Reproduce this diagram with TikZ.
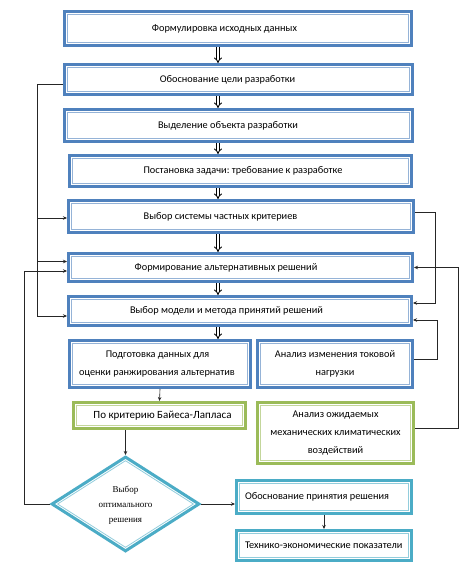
\documentclass[tikz,border=0pt]{standalone}
\usepackage{fontspec}
\setmainfont{Carlito}
\newfontfamily\dmfont{Liberation Serif}
\usetikzlibrary{shapes.geometric,arrows.meta,calc}
\definecolor{bOut}{RGB}{79,129,189}
\definecolor{bIn}{RGB}{149,179,215}
\definecolor{gOut}{RGB}{155,187,89}
\definecolor{gIn}{RGB}{195,214,155}
\definecolor{aOut}{RGB}{75,172,198}
\definecolor{aIn}{RGB}{146,205,220}
\newcommand{\lsh}[1]{\hspace*{#1}}
\frenchspacing
\tikzset{
  frame/.style 2 args={draw=#1, line width=3pt, fill=white, inner sep=2pt, align=center,
    font=\fontsize{10.3}{18}\selectfont,
    path picture={\draw[#2, line width=0.8pt]
      ([shift={(3pt,-3pt)}]path picture bounding box.north west) rectangle
      ([shift={(-3pt,3pt)}]path picture bounding box.south east);}},
  bbox/.style={frame={bOut}{bIn}},
  gbox/.style={frame={gOut}{gIn}},
  abox/.style={frame={aOut}{aIn}},
  wire/.style={line width=0.6pt, draw=black!85},
  conn/.style={wire, -{Stealth[length=4pt,width=3.5pt]}},
  blk/.style={double=white, double distance=1.8pt, line width=0.9pt, -{Implies}},
}
\begin{document}
\begin{tikzpicture}[x=1pt,y=-1pt]
\useasboundingbox (0,0) rectangle (474,567);
\fill[white] (0,0) rectangle (474,567);
\node[bbox, minimum width=347pt, minimum height=34pt] (b1) at (238,28.5) {Формулировка исходных данных\lsh{27pt}};
\node[bbox, minimum width=348pt, minimum height=30pt] (b2) at (238.5,79.5) {Обоснование цели разработки\lsh{22pt}};
\node[bbox, minimum width=348pt, minimum height=32pt] (b3) at (238.5,125.5) {Выделение объекта разработки\lsh{21pt}};
\node[bbox, minimum width=342pt, minimum height=31pt] (b4) at (240.5,171) {\lsh{5pt}Постановка задачи: требование к разработке};
\node[bbox, minimum width=345pt, minimum height=32pt] (b5) at (241,216.5) {Выбор системы частных критериев\lsh{41pt}};
\node[bbox, minimum width=344pt, minimum height=28pt] (b6) at (240.5,267.5) {Формирование альтернативных решений\lsh{29pt}};
\node[bbox, minimum width=343pt, minimum height=29pt] (b7) at (240,311) {Выбор модели и метода принятий решений\lsh{27pt}};
\node[bbox, minimum width=181pt, minimum height=47pt] (b8) at (160,364) {Подготовка данных для\lsh{5pt}\\оценки ранжирования альтернатив\lsh{6pt}};
\node[bbox, minimum width=155pt, minimum height=47pt] (b9) at (335,364) {Анализ изменения токовой\\нагрузки};
\node[gbox, minimum width=172pt, minimum height=26pt, font=\fontsize{11}{18}\selectfont] (b10) at (159.5,415.5) {\lsh{6pt}По критерию Байеса-Лапласа};
\node[gbox, minimum width=156pt, minimum height=61pt] (b11) at (335.5,433) {Анализ ожидаемых\\механических климатических\\воздействий};
\node[diamond, draw=aOut, line width=3pt, fill=white, inner sep=0pt, minimum width=148pt, minimum height=95pt,
  path picture={\draw[aIn, line width=0.8pt]
    ([yshift=-3.6pt]path picture bounding box.north) -- ([xshift=-5.5pt]path picture bounding box.east) --
    ([yshift=3.6pt]path picture bounding box.south) -- ([xshift=5.5pt]path picture bounding box.west) -- cycle;}]
  (d) at (125.5,504) {};
\node[align=center, font=\dmfont\fontsize{9}{15}\selectfont] (dt) at (125.5,505) {Выбор\\оптимального\\решения};
\node[abox, minimum width=175pt, minimum height=33pt, text width=166pt, align=flush left] (b12) at (324,497) {\lsh{4pt}Обоснование принятия решения};
\node[abox, minimum width=175pt, minimum height=30pt, text width=166pt, align=flush left] (b13) at (324,545.5) {\lsh{4pt}Технико-экономические показатели};

% block arrows
\coordinate (ax) at (218,0);
\foreach \a/\b in {b1/b2,b2/b3,b3/b4,b4/b5,b5/b6,b6/b7,b7/b8}{
  \draw[blk] (\a.south -| ax) -- (\b.north -| ax);
}

% left feedback lines
\coordinate (lx) at (37,0);
\coordinate (llx) at (24,0);
\coordinate (s2) at ([yshift=-4.5pt]b2.west);
\coordinate (t5) at ([yshift=-1.5pt]b5.west);
\coordinate (t6a) at ([yshift=6pt]b6.west);
\coordinate (t6b) at ([yshift=-3.5pt]b6.west);
\coordinate (t7) at ([yshift=-5pt]b7.west);
\draw[wire] (s2) -- (s2 -| lx) -- (t7 -| lx);
\draw[conn] (t5 -| lx) -- (t5);
\draw[conn] (t6a -| lx) -- (t6a);
\draw[conn] (t7 -| lx) -- (t7);
\draw[conn] (d.west) -- (d.west -| llx) -- (t6b -| llx) -- (t6b);

% right feedback lines
\coordinate (rx1) at (435,0);
\coordinate (rx2) at (437,0);
\coordinate (rx3) at (458,0);
\coordinate (s5) at ([yshift=4.5pt]b5.east);
\coordinate (t7a) at ([yshift=8pt]b7.east);
\coordinate (s9) at ([yshift=5pt]b9.east);
\coordinate (t7b) at ([yshift=-9pt]b7.east);
\coordinate (s11) at ([yshift=5pt]b11.east);
\draw[conn] (s5) -- (s5 -| rx1) -- (t7a -| rx1) -- (t7a);
\draw[conn] (s9) -- (s9 -| rx2) -- (t7b -| rx2) -- (t7b);
\draw[conn] (s11) -- (s11 -| rx3) -- (b6.east -| rx3) -- (b6.east);

% lower connectors
\draw[conn] (b8.south) -- (b10.north);
\draw[conn] (b10.south -| d.north) -- (d.north);
\coordinate (t12) at (d.east -| b12.west);
\draw[conn] (d.east) -- (t12);
\draw[conn] (b12.south) -- (b13.north);
\end{tikzpicture}
\end{document}
